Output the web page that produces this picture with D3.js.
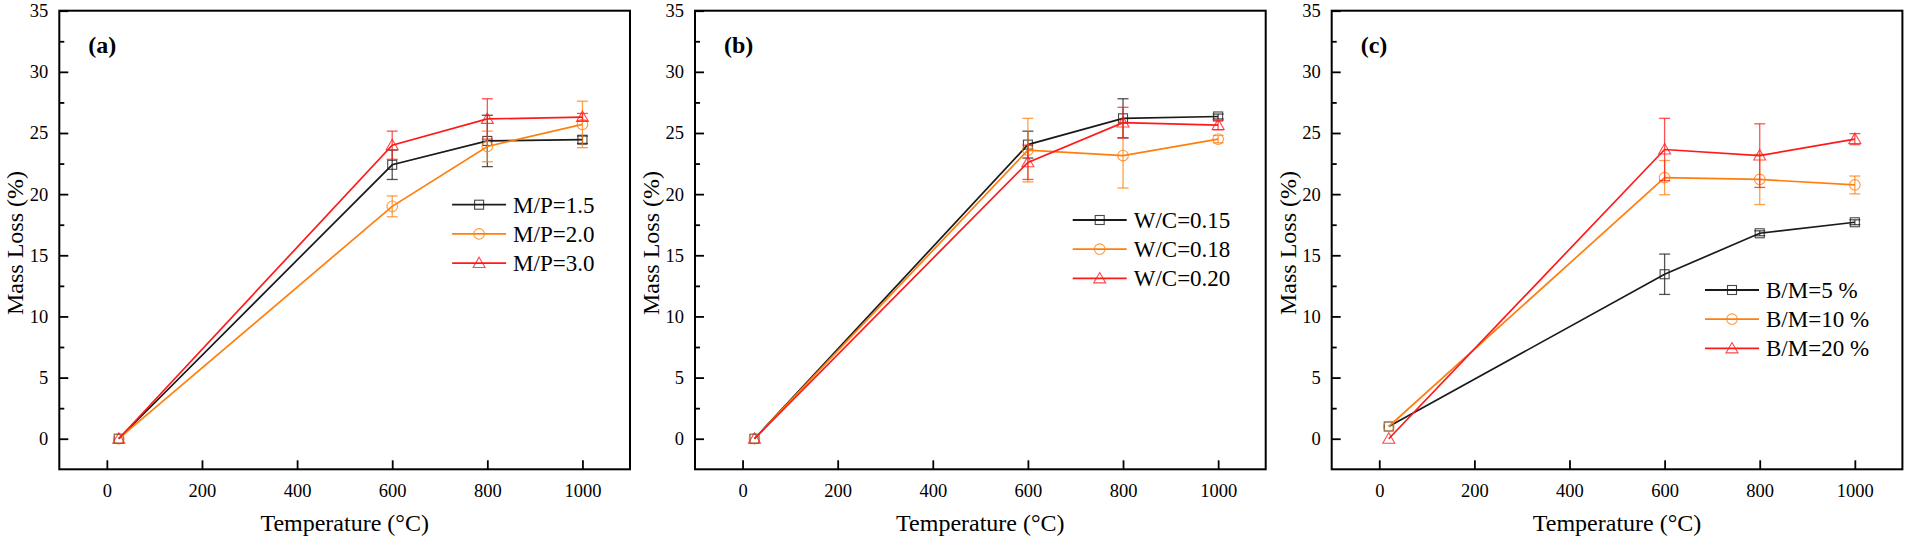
<!DOCTYPE html>
<html>
<head>
<meta charset="utf-8">
<script src="https://cdn.jsdelivr.net/npm/d3@7"></script>
<style>
  html, body { margin: 0; padding: 0; background: #fff; }
  svg { display: block; }
  svg text { font-family: "Times New Roman", "Liberation Serif", "DejaVu Serif", serif !important; fill: #000; }
</style>
</head>
<body>
<svg id="chart" width="1907" height="541"></svg>
<script>
// ---------------- DATA ----------------
const tempsAB = [25, 600, 800, 1000];
const tempsC = [20, 600, 800, 1000];
const xTickValues = [0, 200, 400, 600, 800, 1000];
const yTickValues = [0, 5, 10, 15, 20, 25, 30, 35];
const yMinorValues = [2.5, 7.5, 12.5, 17.5, 22.5, 27.5, 32.5];
const panelLabels = ["(a)", "(b)", "(c)"];
const xTitle = "Temperature (\u00B0C)";
const yTitle = "Mass Loss (%)";

// panel (a)
const namesA = ["M/P=1.5", "M/P=2.0", "M/P=3.0"];
const mp15 = [0, 22.4, 24.35, 24.45];
const mp15Err = [0, 1.2, 2.1, 0.3];
const mp20 = [0, 19.0, 23.9, 25.7];
const mp20Err = [0, 0.85, 1.25, 1.9];
const mp30 = [0, 24.0, 26.15, 26.3];
const mp30Err = [0, 1.15, 1.65, 0.3];

// panel (b)
const namesB = ["W/C=0.15", "W/C=0.18", "W/C=0.20"];
const wc15 = [0, 24.05, 26.2, 26.35];
const wc15Err = [0, 1.1, 1.6, 0.2];
const wc18 = [0, 23.6, 23.15, 24.5];
const wc18Err = [0, 2.6, 2.65, 0.3];
const wc20 = [0, 22.6, 25.85, 25.65];
const wc20Err = [0, 1.4, 1.25, 0.4];

// panel (c)
const namesC = ["B/M=5 %", "B/M=10 %", "B/M=20 %"];
const bm5 = [1.0, 13.45, 16.8, 17.7];
const bm5Err = [0, 1.65, 0.2, 0.2];
const bm10 = [1.0, 21.35, 21.2, 20.75];
const bm10Err = [0, 1.4, 2.05, 0.73];
const bm20 = [0, 23.65, 23.15, 24.5];
const bm20Err = [0, 2.55, 2.6, 0.45];

const seriesColors = ["#1a1a1a", "#ff7f0e", "#ff1a1a"];
const markerShapes = ["square", "circle", "triangle"];

// ---------------- LAYOUT ----------------
const FONT = "'Times New Roman', 'Liberation Serif', 'DejaVu Serif', serif";
const panelLefts = [59.3, 695, 1331.7];
const panelW = 570.7;
const panelTop = 10.7;
const panelBottom = 469.3;
const legendCfg = [
  { dx: 392.8, dy: 194 },
  { dx: 377.7, dy: 209.3 },
  { dx: 373.3, dy: 279.3 }
];

const panels = [
  { x: tempsAB, names: namesA, values: [mp15, mp20, mp30], errs: [mp15Err, mp20Err, mp30Err] },
  { x: tempsAB, names: namesB, values: [wc15, wc18, wc20], errs: [wc15Err, wc18Err, wc20Err] },
  { x: tempsC,  names: namesC, values: [bm5, bm10, bm20], errs: [bm5Err, bm10Err, bm20Err] }
];

const svg = d3.select("#chart").attr("font-family", FONT);

function drawMarker(g, shape, cx, cy, color) {
  if (shape === "square") {
    g.append("rect").attr("x", cx - 4.5).attr("y", cy - 4.5).attr("width", 9).attr("height", 9)
      .attr("fill", "none").attr("stroke", color).attr("stroke-width", 1.1).attr("stroke-opacity", 0.8);
  } else if (shape === "circle") {
    g.append("circle").attr("cx", cx).attr("cy", cy).attr("r", 5.3)
      .attr("fill", "none").attr("stroke", color).attr("stroke-width", 1.1).attr("stroke-opacity", 0.8);
  } else {
    const s = d3.symbol().type(d3.symbolTriangle).size(62);
    g.append("path").attr("d", s()).attr("transform", `translate(${cx},${cy + 1})`)
      .attr("fill", "none").attr("stroke", color).attr("stroke-width", 1.1).attr("stroke-opacity", 0.8);
  }
}

panels.forEach((p, i) => {
  const left = panelLefts[i];
  const x = d3.scaleLinear().domain([-100, 1100]).range([left, left + panelW]);
  const y = d3.scaleLinear().domain([-2.5, 35]).range([panelBottom, panelTop]);
  const g = svg.append("g");

  // x axis (ticks inward)
  const xAxis = d3.axisBottom(x).tickValues(xTickValues).tickSize(-9).tickPadding(14.5).tickFormat(d3.format("d"));
  const gx = g.append("g").attr("transform", `translate(0,${panelBottom})`).call(xAxis);
  gx.attr("font-family", FONT);
  gx.select(".domain").remove();
  gx.selectAll("line").attr("stroke", "#000").attr("stroke-width", 1.8);
  gx.selectAll("text").attr("font-size", 18.5).attr("fill", "#000").attr("font-family", FONT);

  // y axis (ticks inward)
  const yAxis = d3.axisLeft(y).tickValues(yTickValues).tickSize(-9).tickPadding(11).tickFormat(d3.format("d"));
  const gy = g.append("g").attr("transform", `translate(${left},0)`).call(yAxis);
  gy.attr("font-family", FONT);
  gy.select(".domain").remove();
  gy.selectAll("line").attr("stroke", "#000").attr("stroke-width", 1.8);
  gy.selectAll("text").attr("font-size", 18.5).attr("fill", "#000").attr("font-family", FONT);

  const yMinor = d3.axisLeft(y).tickValues(yMinorValues).tickSize(-5).tickFormat("");
  const gym = g.append("g").attr("transform", `translate(${left},0)`).call(yMinor);
  gym.select(".domain").remove();
  gym.selectAll("line").attr("stroke", "#000").attr("stroke-width", 1.8);

  // frame
  g.append("rect").attr("x", left).attr("y", panelTop).attr("width", panelW)
    .attr("height", panelBottom - panelTop).attr("fill", "none").attr("stroke", "#000").attr("stroke-width", 2);

  // titles
  g.append("text").attr("x", left + panelW / 2).attr("y", 531).attr("text-anchor", "middle")
    .attr("font-family", FONT).attr("font-size", 24).text(xTitle);
  g.append("text").attr("transform", `translate(${left - 36},${(panelTop + panelBottom) / 2 + 3}) rotate(-90)`)
    .attr("text-anchor", "middle").attr("font-family", FONT).attr("font-size", 24).text(yTitle);
  g.append("text").attr("x", left + 29).attr("y", 53).attr("font-family", FONT).attr("font-size", 24)
    .attr("font-weight", "bold").text(panelLabels[i]);

  // series
  const line = d3.line().x(d => x(d[0])).y(d => y(d[1]));
  p.values.forEach((vals, k) => {
    const color = seriesColors[k];
    const pts = p.x.map((t, j) => [t, vals[j], p.errs[k][j]]);
    g.append("path").datum(pts).attr("d", line).attr("fill", "none")
      .attr("stroke", color).attr("stroke-width", 1.7);
    pts.forEach(d => {
      if (d[2] > 0) {
        const cx = x(d[0]), y1 = y(d[1] + d[2]), y2 = y(d[1] - d[2]);
        const eb = g.append("g").attr("stroke", color).attr("stroke-width", 1.3).attr("stroke-opacity", 0.75);
        eb.append("line").attr("x1", cx).attr("x2", cx).attr("y1", y1).attr("y2", y2);
        eb.append("line").attr("x1", cx - 5.5).attr("x2", cx + 5.5).attr("y1", y1).attr("y2", y1);
        eb.append("line").attr("x1", cx - 5.5).attr("x2", cx + 5.5).attr("y1", y2).attr("y2", y2);
      }
    });
    pts.forEach(d => drawMarker(g, markerShapes[k], x(d[0]), y(d[1]), color));
  });

  // legend
  const lc = legendCfg[i];
  p.names.forEach((name, k) => {
    const ly = panelTop + lc.dy + k * 29.2;
    const lx = left + lc.dx;
    g.append("line").attr("x1", lx).attr("x2", lx + 54).attr("y1", ly).attr("y2", ly)
      .attr("stroke", seriesColors[k]).attr("stroke-width", 1.8);
    drawMarker(g, markerShapes[k], lx + 27, ly, seriesColors[k]);
    g.append("text").attr("x", lx + 61).attr("y", ly + 8).attr("font-family", FONT)
      .attr("font-size", 23).text(name);
  });
});
</script>
</body>
</html>
